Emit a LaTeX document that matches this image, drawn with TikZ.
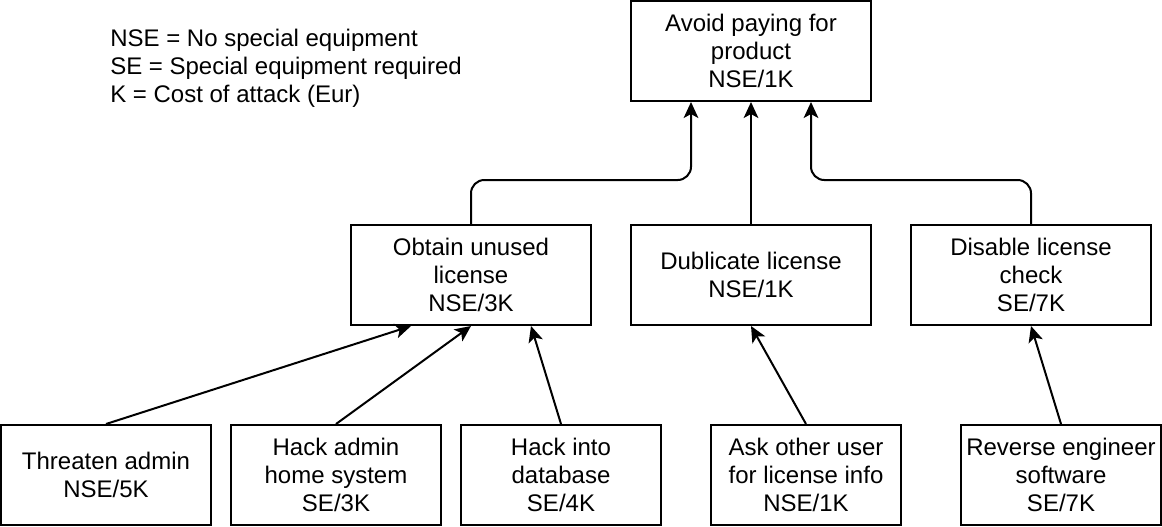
\documentclass[tikz,border=0pt]{standalone}
\usepackage{fontspec}
\setmainfont{Liberation Sans}
\usepackage{tikz}
\usetikzlibrary{arrows.meta, positioning}
\tikzset{
  tbox/.style={draw=black, fill=white, line width=1.5pt, align=center,
               font=\fontsize{18pt}{21pt}\selectfont, inner sep=2pt,
               minimum height=75pt},
  wbox/.style={tbox, minimum width=180pt},
  arr/.style={-{Stealth[length=12pt, width=11pt, inset=3pt]}, line width=1.5pt, black},
}
\begin{document}
\begin{tikzpicture}[x=0.75pt, y=-0.75pt]
  \useasboundingbox (0,0) rectangle (1162,526);
  % legend
  \node[anchor=west, align=left, inner sep=0pt, font=\fontsize{18pt}{21pt}\selectfont]
    (legend) at (110,68) {NSE = No special equipment\\SE = Special equipment required\\K = Cost of attack (Eur)};
  % goal and sub-goals
  \node[wbox] (goal) at (751,51) {Avoid paying for\\product\\NSE/1K};
  \node[wbox] (obtain) at (471,275) {Obtain unused\\license\\NSE/3K};
  \node[wbox] (dupl) at (751,275) {Dublicate license\\NSE/1K};
  \node[wbox] (disable) at (1031,275) {Disable license\\check\\SE/7K};
  % attacks
  \node[tbox, minimum width=157.5pt] (threat) at (106,475) {Threaten admin\\NSE/5K};
  \node[tbox, minimum width=157.5pt] (hackhome) at (336,475) {Hack admin\\home system\\SE/3K};
  \node[tbox, minimum width=150pt] (hackdb) at (561,475) {Hack into\\database\\SE/4K};
  \node[tbox, minimum width=142.5pt] (askuser) at (806,475) {Ask other user\\for license info\\NSE/1K};
  \node[tbox, minimum width=150pt] (reveng) at (1061,475) {Reverse engineer\\software\\SE/7K};

  \draw[arr, rounded corners=10pt] (obtain.north) -- ++(0,-44) -| ([xshift=-45pt]goal.south);
  \draw[arr] (dupl.north) -- (goal.south);
  \draw[arr, rounded corners=10pt] (disable.north) -- ++(0,-44) -| ([xshift=45pt]goal.south);

  \draw[arr] (threat.north) -- ([xshift=-45pt]obtain.south);
  \draw[arr] (hackhome.north) -- (obtain.south);
  \draw[arr] (hackdb.north) -- ([xshift=45pt]obtain.south);
  \draw[arr] (askuser.north) -- (dupl.south);
  \draw[arr] (reveng.north) -- (disable.south);
\end{tikzpicture}
\end{document}
